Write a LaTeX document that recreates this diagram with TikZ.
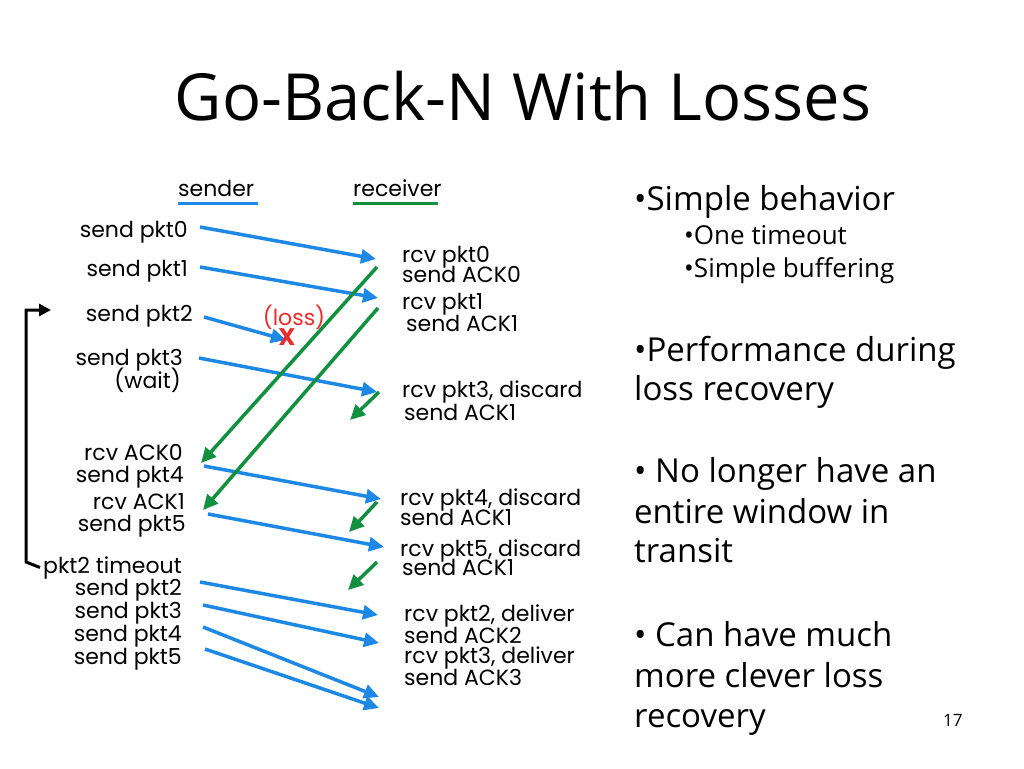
\documentclass[tikz,border=0pt]{standalone}
\usepackage{fontspec}
\setmainfont{Open Sans}
\newfontfamily\diagfont{Poppins}
\usetikzlibrary{arrows.meta}
\definecolor{pktblue}{RGB}{30,136,229}
\definecolor{ackgreen}{RGB}{17,144,64}
\definecolor{lossred}{RGB}{232,45,45}
\tikzset{
  pkt/.style={draw=pktblue, line width=3.5pt, -{Triangle[length=15pt,width=14pt]}},
  ack/.style={draw=ackgreen, line width=3.5pt, -{Triangle[length=15pt,width=14pt]}},
  lbl/.style={font=\diagfont\fontsize{22}{24}\selectfont, inner sep=0pt},
  sndlbl/.style={lbl, anchor=base east},
  rcvlbl/.style={lbl, anchor=base west},
  big/.style={font=\fontsize{33}{40}\selectfont, inner sep=0pt, anchor=base west},
  small/.style={font=\fontsize{26}{30}\selectfont, inner sep=0pt, anchor=base west}
}
\begin{document}
\begin{tikzpicture}[x=1pt,y=-1pt]
\useasboundingbox[fill=white] (0,0) rectangle (1024,768);
% title
\node[font=\fontsize{65}{70}\selectfont, inner sep=0pt, anchor=base] (title) at (523,120) {Go-Back-N With Losses};
% column heads
\node[lbl, anchor=base west] (snd) at (178,196) {sender};
\node[lbl, anchor=base west] (rcv) at (353,196) {receiver};
\draw[pktblue, line width=3pt] (178,203) -- (258,203);
\draw[ackgreen, line width=3pt] (353,203) -- (438,203);
% sender side
\node[sndlbl] (s0) at (188,237) {send pkt0};
\node[sndlbl] (s1) at (188,276) {send pkt1};
\node[sndlbl] (s2) at (193,321) {send pkt2};
\node[sndlbl] (s3) at (183,365) {send pkt3};
\node[sndlbl] (wait) at (181,388) {(wait)};
\node[sndlbl] (ra0) at (183,460) {rcv ACK0};
\node[sndlbl] (s4) at (184,482) {send pkt4};
\node[sndlbl] (ra1) at (185,509) {rcv ACK1};
\node[sndlbl] (s5) at (186,531) {send pkt5};
\node[sndlbl] (tmo) at (182,573) {pkt2 timeout};
\node[sndlbl] (rs2) at (182,595) {send pkt2};
\node[sndlbl] (rs3) at (182,618) {send pkt3};
\node[sndlbl] (rs4) at (182,641) {send pkt4};
\node[sndlbl] (rs5) at (182,664) {send pkt5};
% receiver side
\node[rcvlbl] (r0) at (402,262) {rcv pkt0};
\node[rcvlbl] (k0) at (402,282) {send ACK0};
\node[rcvlbl] (r1) at (402,309) {rcv pkt1};
\node[rcvlbl] (k1) at (406,331) {send ACK1};
\node[rcvlbl] (r3) at (402,397) {rcv pkt3, discard};
\node[rcvlbl] (k1b) at (404,420) {send ACK1};
\node[rcvlbl] (r4) at (400,505) {rcv pkt4, discard};
\node[rcvlbl] (k1c) at (400,525) {send ACK1};
\node[rcvlbl] (r5) at (400,556) {rcv pkt5, discard};
\node[rcvlbl] (k1d) at (402,575) {send ACK1};
\node[rcvlbl] (rr2) at (404,621) {rcv pkt2, deliver};
\node[rcvlbl] (k2) at (404,643) {send ACK2};
\node[rcvlbl] (rr3) at (404,663) {rcv pkt3, deliver};
\node[rcvlbl] (k3) at (404,685) {send ACK3};
% arrow ends
\coordinate (p0a) at (200,227);  \coordinate (p0b) at (376,259);
\coordinate (p1a) at (200,267);  \coordinate (p1b) at (378,298);
\coordinate (p2a) at (204,317);  \coordinate (p2b) at (286,340);
\coordinate (p3a) at (199,358);  \coordinate (p3b) at (377,392);
\coordinate (p4a) at (204,466);  \coordinate (p4b) at (381,499);
\coordinate (p5a) at (208,514);  \coordinate (p5b) at (384,547);
\coordinate (q2a) at (200,582);  \coordinate (q2b) at (378,615);
\coordinate (q3a) at (203,605);  \coordinate (q3b) at (379,643);
\coordinate (q4a) at (203,627);  \coordinate (q4b) at (379,697);
\coordinate (q5a) at (205,649);  \coordinate (q5b) at (379,708);
\coordinate (a0a) at (377,267);  \coordinate (a0b) at (201,463);
\coordinate (a1a) at (378,308);  \coordinate (a1b) at (203,510);
\coordinate (a2a) at (379,392);  \coordinate (a2b) at (350,420);
\coordinate (a3a) at (377,502);  \coordinate (a3b) at (349,532);
\coordinate (a4a) at (377,562);  \coordinate (a4b) at (348,590);
\coordinate (tmotop) at (51,310);
% packets
\draw[pkt] (p0a) -- (p0b);
\draw[pkt] (p1a) -- (p1b);
\draw[pkt] (p2a) -- (p2b);
\draw[pkt] (p3a) -- (p3b);
\draw[pkt] (p4a) -- (p4b);
\draw[pkt] (p5a) -- (p5b);
\draw[pkt] (q2a) -- (q2b);
\draw[pkt] (q3a) -- (q3b);
\draw[pkt] (q4a) -- (q4b);
\draw[pkt] (q5a) -- (q5b);
% acks
\draw[ack] (a0a) -- (a0b);
\draw[ack] (a1a) -- (a1b);
\draw[ack] (a2a) -- (a2b);
\draw[ack] (a3a) -- (a3b);
\draw[ack] (a4a) -- (a4b);
% loss
\node[lbl, text=lossred, anchor=base] (loss) at (294,325) {(loss)};
\node[lbl, text=lossred, font=\diagfont\bfseries\fontsize{24}{24}\selectfont, anchor=base] (lx) at (287,345) {X};
% timer
\draw[line width=3pt, -{Triangle[length=12pt,width=12pt]}] ([xshift=-3pt]tmo.west) -- (26,562) |- (tmotop);
% bullets
\node[big] (b1) at (634,210) {•Simple behavior};
\node[small] (b1a) at (684,244) {•One timeout};
\node[small] (b1b) at (684,277) {•Simple buffering};
\node[big] (b2) at (634,361) {•Performance during};
\node[big] (b2b) at (634,400) {loss recovery};
\node[big] (b3) at (634,482) {• No longer have an};
\node[big] (b3b) at (634,523) {entire window in};
\node[big] (b3c) at (634,562) {transit};
\node[big] (b4) at (634,646) {• Can have much};
\node[big] (b4b) at (634,687) {more clever loss};
\node[big] (b4c) at (634,727) {recovery};
\node[font=\fontsize{17}{17}\selectfont, inner sep=0pt, anchor=base west] (num) at (943,726) {17};
\end{tikzpicture}
\end{document}
